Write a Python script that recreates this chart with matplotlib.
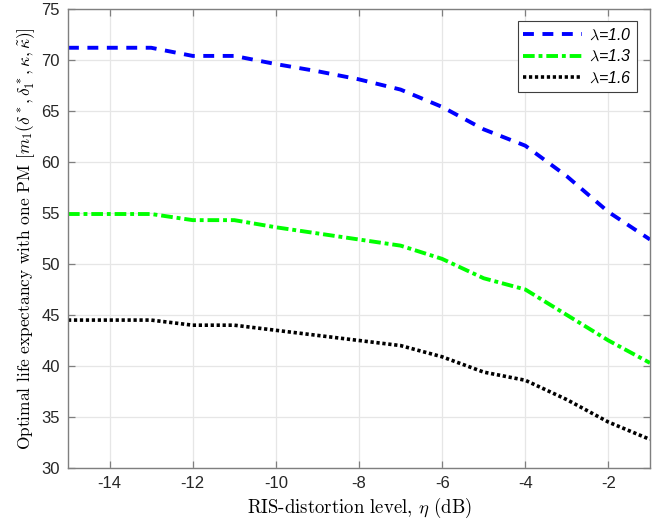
import matplotlib
matplotlib.use("Agg")
import matplotlib.pyplot as plt

eta = [-15, -14, -13, -12, -11, -10, -9, -8, -7, -6, -5, -4, -3, -2, -1]
life_l10 = [71.2, 71.2, 71.2, 70.4, 70.4, 69.6, 68.9, 68.1, 67.1, 65.4, 63.2, 61.6, 58.6, 55.1, 52.4]
life_l13 = [54.9, 54.9, 54.9, 54.3, 54.3, 53.6, 53.0, 52.4, 51.8, 50.5, 48.6, 47.5, 45.0, 42.5, 40.3]
life_l16 = [44.5, 44.5, 44.5, 44.0, 44.0, 43.5, 43.0, 42.5, 42.0, 40.9, 39.4, 38.6, 36.7, 34.5, 32.8]
labels = [r"$\lambda$=1.0", r"$\lambda$=1.3", r"$\lambda$=1.6"]
xticks = [-14, -12, -10, -8, -6, -4, -2]
yticks = [30, 35, 40, 45, 50, 55, 60, 65, 70, 75]

plt.rcParams['mathtext.fontset'] = 'cm'
plt.rcParams['axes.unicode_minus'] = False
plt.rcParams['font.family'] = ['Liberation Sans', 'DejaVu Sans']

fig = plt.figure(figsize=(6.69, 5.26), dpi=100)
ax = fig.add_axes([0.1016, 0.1103, 0.8700, 0.8726])

ax.plot(eta, life_l10, color=(0, 0, 1), lw=2.8, dashes=(2.8, 2.2), label=labels[0])
ax.plot(eta, life_l13, color=(0, 1, 0), lw=2.8, dashes=(3.0, 1.0, 1.0, 1.0), label=labels[1])
ax.plot(eta, life_l16, color=(0, 0, 0), lw=2.6, dashes=(0.9, 0.75), label=labels[2])

ax.set_xlim(-15, -1)
ax.set_ylim(30, 75)
ax.set_xticks(xticks)
ax.set_yticks(yticks)
ax.grid(True, color='#e6e6e6', lw=0.9)
ax.set_axisbelow(True)
for s in ax.spines.values():
    s.set_color('#7f7f7f')
    s.set_linewidth(1.0)
ax.tick_params(direction='in', length=5, width=0.9, color='#7f7f7f',
               labelsize=12, labelcolor='#262626', top=True, right=True, pad=6)

ax.set_xlabel(r"RIS-distortion level, $\eta$ (dB)", family='cmr10', fontsize=13.5, labelpad=3)
ax.set_ylabel(r"Optimal life expectancy with one PM $[m_1(\delta^*,\delta_1^*,\kappa,\tilde{\kappa})]$",
              family='cmr10', fontsize=12.5, labelpad=3)

leg = ax.legend(loc='upper right', bbox_to_anchor=(0.978, 0.973), handlelength=3.7,
                prop={'style': 'italic', 'size': 11.5, 'family': 'Liberation Sans'},
                fancybox=False, framealpha=1, edgecolor='#3f3f3f', borderpad=0.35,
                labelspacing=0.4, handletextpad=0.4, borderaxespad=0)
leg.get_frame().set_linewidth(0.8)

fig.savefig("out.png", dpi=100)
